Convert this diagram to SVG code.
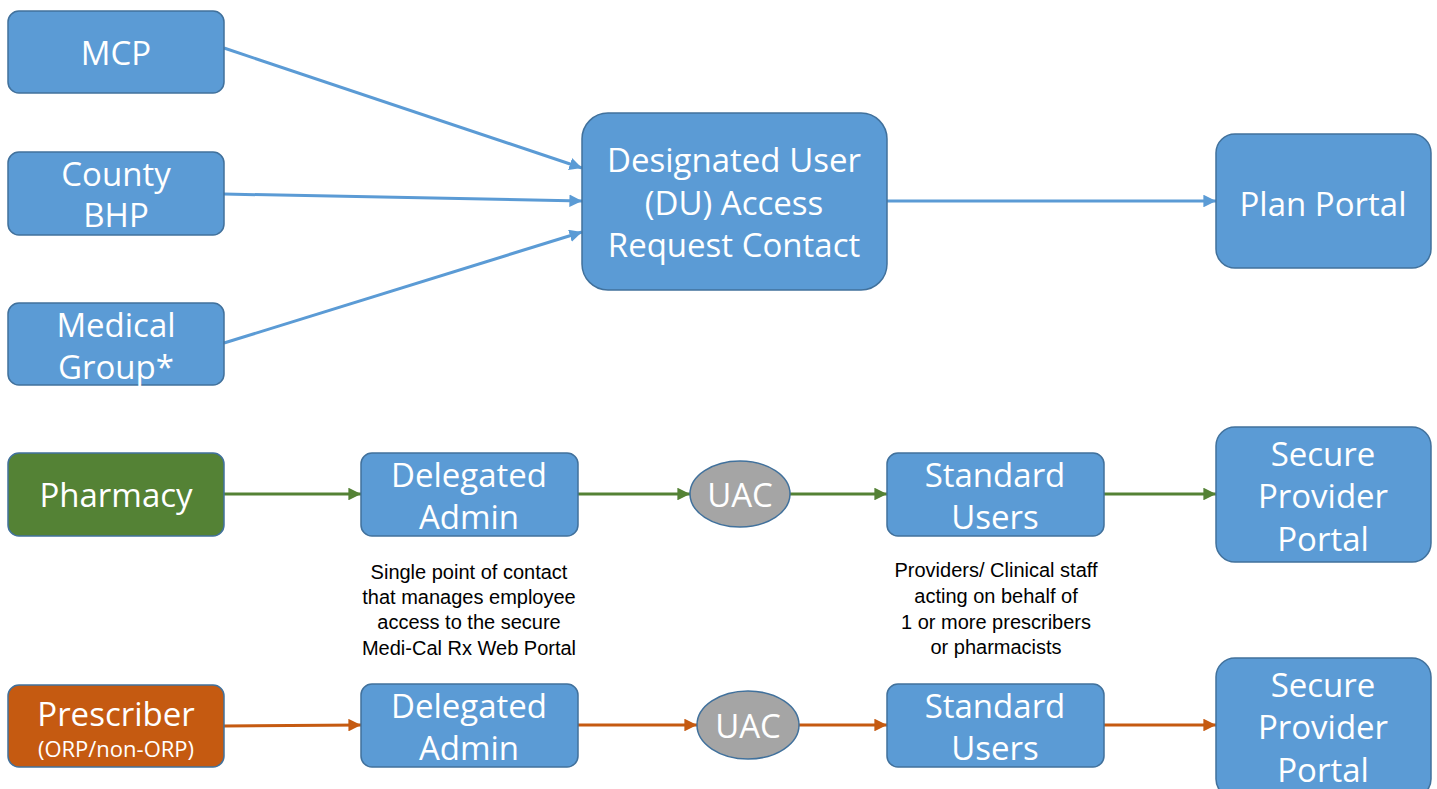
<svg xmlns="http://www.w3.org/2000/svg" width="1437" height="789" viewBox="0 0 1437 789">
  <defs>
    <style>
      .box { fill: #5B9BD5; stroke: #41719C; stroke-width: 1.5; }
      .green { fill: #548235; stroke: #41719C; stroke-width: 1.5; }
      .orange { fill: #C55A11; stroke: #41719C; stroke-width: 1.5; }
      .uac { fill: #A5A5A5; stroke: #41719C; stroke-width: 1.5; }
      .lbl { font-family: "Open Sans", "Noto Sans", sans-serif; font-size: 33px; fill: #FFFFFF; text-anchor: middle; dominant-baseline: central; }
      .sub { font-family: "Open Sans", "Noto Sans", sans-serif; font-size: 22px; fill: #FFFFFF; text-anchor: middle; dominant-baseline: central; }
      .note { font-family: "Liberation Sans", Arial, sans-serif; font-size: 20px; fill: #000000; text-anchor: middle; dominant-baseline: central; }
      .c-blue { stroke: #5B9BD5; stroke-width: 3; fill: none; marker-end: url(#ah-blue); }
      .c-green { stroke: #548235; stroke-width: 3; fill: none; marker-end: url(#ah-green); }
      .c-orange { stroke: #C55A11; stroke-width: 3; fill: none; marker-end: url(#ah-orange); }
    </style>
    <marker id="ah-blue" viewBox="0 0 10 10" refX="10" refY="5" markerWidth="4.2" markerHeight="4.2" orient="auto" markerUnits="strokeWidth">
      <path d="M0,0 L10,5 L0,10 Z" fill="#5B9BD5"/>
    </marker>
    <marker id="ah-green" viewBox="0 0 10 10" refX="10" refY="5" markerWidth="4.2" markerHeight="4.2" orient="auto" markerUnits="strokeWidth">
      <path d="M0,0 L10,5 L0,10 Z" fill="#548235"/>
    </marker>
    <marker id="ah-orange" viewBox="0 0 10 10" refX="10" refY="5" markerWidth="4.2" markerHeight="4.2" orient="auto" markerUnits="strokeWidth">
      <path d="M0,0 L10,5 L0,10 Z" fill="#C55A11"/>
    </marker>
  </defs>

  <rect width="1437" height="789" fill="#FFFFFF"/>

  <!-- connectors -->
  <g id="connectors">
    <line class="c-blue" x1="224" y1="48" x2="582" y2="168"/>
    <line class="c-blue" x1="224" y1="194" x2="582" y2="201"/>
    <line class="c-blue" x1="224" y1="343" x2="582" y2="232"/>
    <line class="c-blue" x1="887" y1="201" x2="1216" y2="201"/>

    <line class="c-green" x1="224" y1="494" x2="361" y2="494"/>
    <line class="c-green" x1="578" y1="494" x2="690" y2="494"/>
    <line class="c-green" x1="790" y1="494" x2="887" y2="494"/>
    <line class="c-green" x1="1104" y1="494" x2="1216" y2="494"/>

    <line class="c-orange" x1="224" y1="726" x2="361" y2="725"/>
    <line class="c-orange" x1="578" y1="725" x2="697" y2="725"/>
    <line class="c-orange" x1="799" y1="725" x2="887" y2="725"/>
    <line class="c-orange" x1="1104" y1="725" x2="1216" y2="725"/>
  </g>

  <!-- upper section: plan access -->
  <g id="mcp">
    <rect class="box" x="8" y="11" width="216" height="82" rx="11"/>
    <text class="lbl" x="116" y="52">MCP</text>
  </g>
  <g id="county-bhp">
    <rect class="box" x="8" y="152" width="216" height="83" rx="11"/>
    <text class="lbl" x="116" y="173">County</text>
    <text class="lbl" x="116" y="214">BHP</text>
  </g>
  <g id="medical-group">
    <rect class="box" x="8" y="303" width="216" height="82" rx="11"/>
    <text class="lbl" x="116" y="324">Medical</text>
    <text class="lbl" x="116" y="366">Group*</text>
  </g>
  <g id="du-contact">
    <rect class="box" x="582" y="113" width="305" height="177" rx="26"/>
    <text class="lbl" x="734" y="159">Designated User</text>
    <text class="lbl" x="734" y="202">(DU) Access</text>
    <text class="lbl" x="734" y="244">Request Contact</text>
  </g>
  <g id="plan-portal">
    <rect class="box" x="1216" y="134" width="215" height="134" rx="19"/>
    <text class="lbl" x="1323" y="203">Plan Portal</text>
  </g>

  <!-- pharmacy row -->
  <g id="pharmacy">
    <rect class="green" x="8" y="453" width="216" height="83" rx="11"/>
    <text class="lbl" x="116" y="494">Pharmacy</text>
  </g>
  <g id="pharmacy-admin">
    <rect class="box" x="361" y="453" width="217" height="83" rx="11"/>
    <text class="lbl" x="469" y="474">Delegated</text>
    <text class="lbl" x="469" y="516">Admin</text>
  </g>
  <g id="pharmacy-uac">
    <ellipse class="uac" cx="740" cy="494" rx="50" ry="33"/>
    <text class="lbl" x="740" y="494">UAC</text>
  </g>
  <g id="pharmacy-users">
    <rect class="box" x="887" y="453" width="217" height="83" rx="11"/>
    <text class="lbl" x="995" y="474">Standard</text>
    <text class="lbl" x="995" y="516">Users</text>
  </g>
  <g id="pharmacy-portal">
    <rect class="box" x="1216" y="427" width="215" height="135" rx="19"/>
    <text class="lbl" x="1323" y="453">Secure</text>
    <text class="lbl" x="1323" y="495">Provider</text>
    <text class="lbl" x="1323" y="538">Portal</text>
  </g>

  <!-- explanatory notes -->
  <g id="note-admin">
    <text class="note" x="469" y="572">Single point of contact</text>
    <text class="note" x="469" y="597">that manages employee</text>
    <text class="note" x="469" y="622">access to the secure</text>
    <text class="note" x="469" y="648">Medi-Cal Rx Web Portal</text>
  </g>
  <g id="note-users">
    <text class="note" x="996" y="570">Providers/ Clinical staff</text>
    <text class="note" x="996" y="596">acting on behalf of</text>
    <text class="note" x="996" y="622">1 or more prescribers</text>
    <text class="note" x="996" y="647">or pharmacists</text>
  </g>

  <!-- prescriber row -->
  <g id="prescriber">
    <rect class="orange" x="8" y="685" width="216" height="82" rx="11"/>
    <text class="lbl" x="116" y="713">Prescriber</text>
    <text class="sub" x="116" y="748">(ORP/non-ORP)</text>
  </g>
  <g id="prescriber-admin">
    <rect class="box" x="361" y="684" width="217" height="83" rx="11"/>
    <text class="lbl" x="469" y="705">Delegated</text>
    <text class="lbl" x="469" y="747">Admin</text>
  </g>
  <g id="prescriber-uac">
    <ellipse class="uac" cx="748" cy="725" rx="51" ry="34"/>
    <text class="lbl" x="748" y="725">UAC</text>
  </g>
  <g id="prescriber-users">
    <rect class="box" x="887" y="684" width="217" height="83" rx="11"/>
    <text class="lbl" x="995" y="705">Standard</text>
    <text class="lbl" x="995" y="747">Users</text>
  </g>
  <g id="prescriber-portal">
    <rect class="box" x="1216" y="658" width="215" height="140" rx="19"/>
    <text class="lbl" x="1323" y="684">Secure</text>
    <text class="lbl" x="1323" y="726">Provider</text>
    <text class="lbl" x="1323" y="769">Portal</text>
  </g>
</svg>
